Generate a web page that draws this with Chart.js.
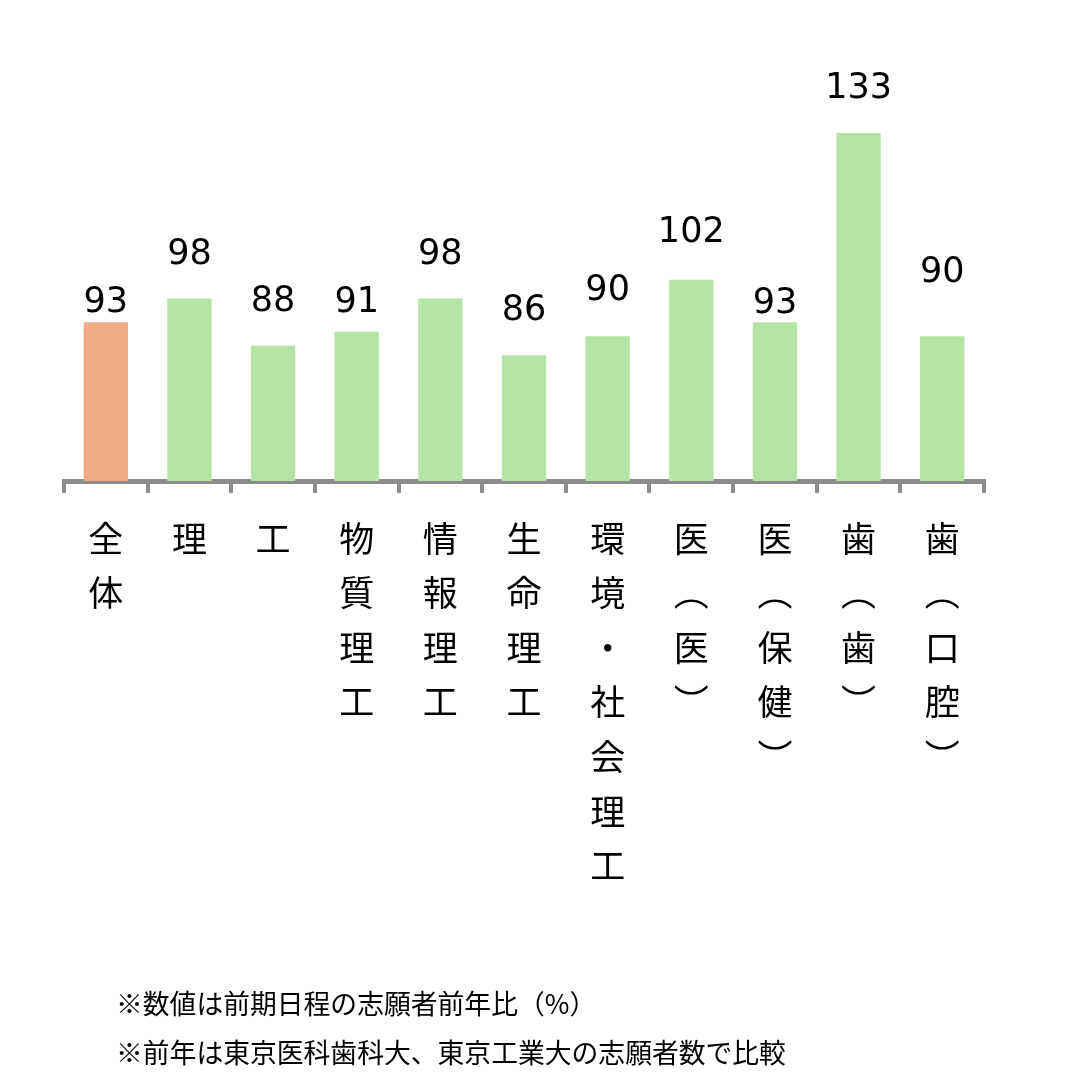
<!DOCTYPE html>
<html>
<head>
<meta charset="utf-8">
<script src="https://cdn.jsdelivr.net/npm/chart.js@4"></script>
<style>
  html, body { margin: 0; padding: 0; background: #fff; }
  #wrap { position: relative; width: 1072px; height: 1088px; }
  #notes {
    position: absolute; left: 116px; top: 978px;
    font-family: "Noto Sans CJK JP", sans-serif; font-size: 26.8px; color: #000;
    line-height: 49px; white-space: nowrap;
  }
</style>
</head>
<body>
<div id="wrap">
  <canvas id="myChart"></canvas>
  <div id="notes">
    <div>※数値は前期日程の志願者前年比（%）</div>
    <div>※前年は東京医科歯科大、東京工業大の志願者数で比較</div>
  </div>
</div>
<script>
const categories = ["全体", "理", "工", "物質理工", "情報理工", "生命理工", "環境・社会理工", "医︵医︶", "医︵保健︶", "歯︵歯︶", "歯︵口腔︶"];
const ratios = [93, 98, 88, 91, 98, 86, 90, 102, 93, 133, 90];
const barColors = ["#f0ab86", "#b4e4a3", "#b4e4a3", "#b4e4a3", "#b4e4a3", "#b4e4a3", "#b4e4a3", "#b4e4a3", "#b4e4a3", "#b4e4a3", "#b4e4a3"];

// 縦書きラベル：1文字ずつ改行
const labels = categories.map(c => Array.from(c));

// 値ラベルの位置（棒の上端からの距離, px）— 元の図では手で並べてある
const labelGap = [19, 44, 44, 29, 44, 44, 45, 47, 18, 44, 63];

// 棒の上に値を表示
const valueLabels = {
  id: "valueLabels",
  afterDatasetsDraw(chart) {
    const ctx = chart.ctx;
    const meta = chart.getDatasetMeta(0);
    ctx.save();
    ctx.font = "35px 'DejaVu Sans'";
    ctx.fillStyle = "#000";
    ctx.textAlign = "center";
    ctx.textBaseline = "middle";
    meta.data.forEach((bar, i) => {
      ctx.fillText(String(ratios[i]), bar.x, bar.y - labelGap[i]);
    });
    ctx.restore();
  }
};

const ctx = document.getElementById("myChart");

new Chart(ctx, {
  type: "bar",
  data: {
    labels: labels,
    datasets: [
      {
        data: ratios,
        backgroundColor: barColors,
        borderWidth: 0,
        barPercentage: 0.53,
        categoryPercentage: 1
      }
    ]
  },
  options: {
    responsive: true,
    maintainAspectRatio: false,
    animation: false,
    layout: { padding: { left: 64, right: 88, top: 100, bottom: 0 } },
    plugins: {
      legend: { display: false },
      tooltip: { enabled: false }
    },
    scales: {
      x: {
        afterFit(scale) { scale.height = 1088 - 481; },
        border: { display: true, color: "#8c8c8c", width: 5 },
        grid: {
          offset: true,
          drawOnChartArea: false,
          drawTicks: true,
          tickLength: 12,
          color: "#8c8c8c",
          lineWidth: 4
        },
        ticks: {
          autoSkip: false,
          maxRotation: 0,
          padding: 18,
          color: "#000",
          font: { family: "'Noto Sans CJK JP'", size: 35, lineHeight: 1.56 }
        }
      },
      y: {
        display: false,
        min: 59.4,
        max: 140
      }
    }
  },
  plugins: [valueLabels]
});
</script>
</body>
</html>
